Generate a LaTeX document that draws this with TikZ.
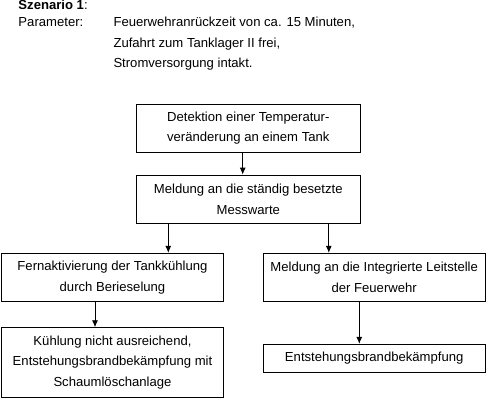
\documentclass[tikz,border=0pt]{standalone}
\usepackage{fontspec}
\setmainfont{Liberation Sans}
\usetikzlibrary{arrows.meta}
\begin{document}
\begin{tikzpicture}[x=1pt,y=-1pt,
  box/.style={draw,line width=0.9pt,align=center,inner sep=0pt,
    font=\fontsize{13.1}{20.6}\selectfont},
  hdr/.style={anchor=base west,inner sep=0pt,font=\fontsize{13.1}{14}\selectfont},
  arr/.style={line width=0.9pt,-{Latex[length=7pt,width=6pt]}}]
\useasboundingbox (0,0) rectangle (488,400);
\node[hdr] (sz) at (18.3,9.3) {\textbf{Szenario 1}:};
\node[hdr] (par) at (18.3,26.7) {Parameter:};
\node[hdr] (p1) at (113.3,26.7) {Feuerwehranrückzeit von ca. 15 Minuten,};
\node[hdr] (p2) at (113.3,47.2) {Zufahrt zum Tanklager II frei,};
\node[hdr] (p3) at (113.3,67.7) {Stromversorgung intakt.};
\node[box,minimum width=223.3pt,minimum height=48.7pt] (b1) at (248.3,128.3)
  {Detektion einer Temperatur-\\veränderung an einem Tank};
\node[box,minimum width=223.3pt,minimum height=48.3pt] (b2) at (248.3,199.2)
  {Meldung an die ständig besetzte\\Messwarte};
\node[box,minimum width=221.6pt,minimum height=48.4pt] (b3) at (112.5,277.5)
  {Fernaktivierung der Tankkühlung\\durch Berieselung};
\node[box,minimum width=221.7pt,minimum height=48.4pt] (b4) at (374.2,277.5)
  {Meldung an die Integrierte Leitstelle\\der Feuerwehr};
\node[box,minimum width=221.6pt,minimum height=69.6pt] (b5) at (112.5,362.5)
  {Kühlung nicht ausreichend,\\Entstehungsbrandbekämpfung mit\\Schaumlöschanlage};
\node[box,minimum width=221.7pt,minimum height=28.4pt] (b6) at (374.2,358.5)
  {Entstehungsbrandbekämpfung};
\draw[arr] (b1.south -| 242.7,0) -- (b2.north -| 242.7,0);
\draw[arr] (b2.south -| 168.3,0) -- (b3.north -| 168.3,0);
\draw[arr] (b2.south -| 328.8,0) -- (b4.north -| 328.8,0);
\draw[arr] (b3.south -| 95,0) -- (b5.north -| 95,0);
\draw[arr] (b4.south -| 359.3,0) -- (b6.north -| 359.3,0);
\end{tikzpicture}
\end{document}
